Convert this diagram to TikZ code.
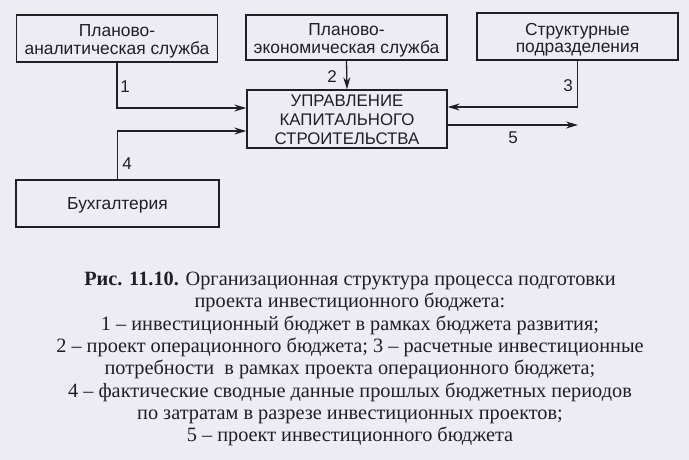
\documentclass[tikz,border=0pt]{standalone}
\usepackage{fontspec}
\setmainfont{Liberation Serif}
\setsansfont{Liberation Sans}
\usetikzlibrary{arrows.meta}
\definecolor{paper}{RGB}{236,236,242}
\definecolor{ink}{RGB}{30,30,35}
\tikzset{
  box/.style={draw=ink, line width=1.3pt, inner sep=0pt},
  boxtext/.style={inner sep=0pt, align=center,
    font=\sffamily\fontsize{17.4}{17.5}\selectfont, text=ink},
  arr/.style={draw=ink, line width=1.3pt, -{Stealth[length=12pt,width=7pt]}},
  num/.style={font=\sffamily\fontsize{17}{17}\selectfont, text=ink, inner sep=0pt},
  captext/.style={font=\fontsize{20.3}{22.3}\selectfont, text=ink, align=center, inner sep=0pt}
}
\begin{document}
\begin{tikzpicture}[x=1pt,y=-1pt]
\fill[paper] (0,0) rectangle (689,460);
\useasboundingbox (0,0) rectangle (689,460);
\node[box, minimum width=201pt, minimum height=47pt] (A) at (117,38.5) {};
\node[box, minimum width=201pt, minimum height=45pt] (B) at (346.5,37.5) {};
\node[box, minimum width=201pt, minimum height=47pt] (C) at (577.5,36.5) {};
\node[box, minimum width=200pt, minimum height=58pt] (D) at (347,119) {};
\node[box, minimum width=203pt, minimum height=47pt] (E) at (117.5,203.5) {};
\node[boxtext] (At) at ([yshift=-3pt]A.center) {Планово-\\аналитическая служба};
\node[boxtext] (Bt) at ([yshift=-3pt]B.center) {Планово-\\экономическая служба};
\node[boxtext] (Ct) at ([yshift=-3pt]C.center) {Структурные\\подразделения};
\node[boxtext, font=\sffamily\fontsize{16.8}{18.7}\selectfont] (Dt) at ([yshift=-1pt]D.center) {УПРАВЛЕНИЕ\\КАПИТАЛЬНОГО\\СТРОИТЕЛЬСТВА};
\node[boxtext] (Et) at ([yshift=-2pt]E.center) {Бухгалтерия};
\coordinate (e5) at (578,125);
\draw[arr] (A.south) |- ([yshift=11pt]D.west);
\draw[arr] (E.north) |- ([yshift=-12pt]D.west);
\draw[arr] (B.south) -- (D.north);
\draw[arr] (C.south) |- ([yshift=12pt]D.east);
\draw[arr] (D.east |- e5) -- (e5);
\node[num] (n1) at (125,87) {1};
\node[num] (n2) at (332,77) {2};
\node[num] (n3) at (568,86) {3};
\node[num] (n4) at (127,164) {4};
\node[num] (n5) at (513,138) {5};
\node[captext] (capt) at (350,359) {\textbf{Рис. 11.10.} Организационная структура процесса подготовки\\
проекта инвестиционного бюджета:\\
1 – инвестиционный бюджет в рамках бюджета развития;\\
2 – проект операционного бюджета; 3 – расчетные инвестиционные\\
потребности\ \ в рамках проекта операционного бюджета;\\
4 – фактические сводные данные прошлых бюджетных периодов\\
по затратам в разрезе инвестиционных проектов;\\
5 – проект инвестиционного бюджета};
\end{tikzpicture}
\end{document}
